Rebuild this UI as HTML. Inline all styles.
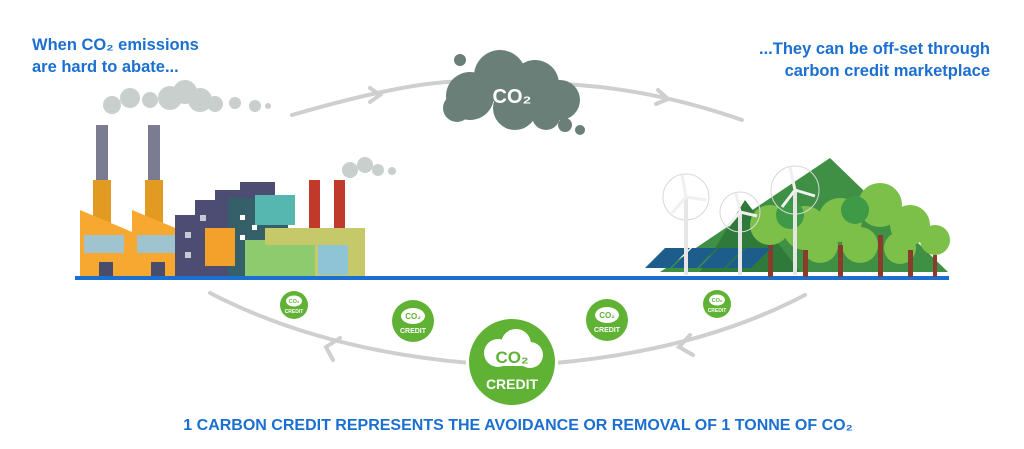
<!DOCTYPE html>
<html><head><meta charset="utf-8"><style>
body{margin:0;background:#fff;width:1024px;height:449px;overflow:hidden}
svg{display:block}
text{font-family:"Liberation Sans",sans-serif;font-weight:bold}
</style></head><body>
<svg width="1024" height="449" viewBox="0 0 1024 449">
<!-- texts -->
<text x="32" y="50" font-size="16.5" fill="#1b6fd0">When CO₂ emissions</text>
<text x="32" y="72" font-size="16.5" fill="#1b6fd0">are hard to abate...</text>
<text x="990" y="54" font-size="16.5" fill="#1b6fd0" text-anchor="end">...They can be off-set through</text>
<text x="990" y="76" font-size="16.5" fill="#1b6fd0" text-anchor="end">carbon credit marketplace</text>
<text x="518" y="430" font-size="16" fill="#1b6fd0" text-anchor="middle">1 CARBON CREDIT REPRESENTS THE AVOIDANCE OR REMOVAL OF 1 TONNE OF CO₂</text>

<!-- arcs -->
<g fill="none" stroke="#cfcfcf" stroke-width="4" stroke-linecap="round">
<path d="M292 115 Q420 78 470 82"/>
<path d="M562 84 Q650 88 742 120"/>
<path d="M370 88 L380 95 L370 102"/>
<path d="M658 90 L668 99 L656 104"/>
<path d="M210 293 Q320 350 470 363"/>
<path d="M555 363 Q700 350 805 295"/>
<path d="M340 338 L326 347 L333 360"/>
<path d="M690 335 L679 347 L693 355"/>
</g>

<!-- CO2 cloud -->
<g fill="#6b7f79">
<circle cx="470" cy="96" r="24"/><circle cx="500" cy="76" r="26"/><circle cx="535" cy="84" r="24"/>
<circle cx="560" cy="100" r="20"/><circle cx="515" cy="108" r="22"/><circle cx="457" cy="108" r="14"/>
<circle cx="546" cy="116" r="14"/><circle cx="565" cy="125" r="7"/><circle cx="580" cy="130" r="5"/>
<circle cx="460" cy="60" r="6"/>
</g>
<text x="512" y="103" font-size="20" fill="#fff" text-anchor="middle">CO₂</text>

<!-- smoke -->
<g fill="#c8cfcc">
<circle cx="112" cy="105" r="9"/><circle cx="130" cy="98" r="10"/><circle cx="150" cy="100" r="8"/>
<circle cx="170" cy="98" r="12"/><circle cx="185" cy="92" r="12"/><circle cx="200" cy="100" r="12"/><circle cx="215" cy="104" r="8"/>
<circle cx="235" cy="103" r="6"/><circle cx="255" cy="106" r="6"/><circle cx="268" cy="106" r="3"/>
<circle cx="350" cy="170" r="8"/><circle cx="365" cy="165" r="8"/><circle cx="378" cy="170" r="6"/><circle cx="392" cy="171" r="4"/>
</g>

<!-- factory left -->
<rect x="96" y="125" width="12" height="60" fill="#7b7c92"/>
<rect x="148" y="125" width="12" height="60" fill="#7b7c92"/>
<rect x="93" y="180" width="18" height="50" fill="#e39a22"/>
<rect x="145" y="180" width="18" height="50" fill="#e39a22"/>
<polygon points="80,210 132,232 132,210 185,232 185,278 80,278" fill="#f7a830"/>
<rect x="84" y="235" width="40" height="18" fill="#9fc3cf"/>
<rect x="137" y="235" width="40" height="18" fill="#9fc3cf"/>
<rect x="99" y="262" width="14" height="16" fill="#4a4c6b"/>
<rect x="151" y="262" width="14" height="16" fill="#4a4c6b"/>
<!-- purple building -->
<polygon points="175,215 195,215 195,200 215,200 215,190 240,190 240,182 275,182 275,278 175,278" fill="#4d4c73"/>
<g fill="#c9c9d6"><rect x="185" y="232" width="6" height="6"/><rect x="200" y="215" width="6" height="6"/><rect x="185" y="252" width="6" height="6"/></g>
<rect x="228" y="198" width="60" height="80" fill="#35606a"/>
<g fill="#fff"><rect x="240" y="215" width="5" height="5"/><rect x="252" y="225" width="5" height="5"/><rect x="240" y="235" width="5" height="5"/><rect x="252" y="245" width="5" height="5"/></g>
<rect x="255" y="195" width="40" height="30" fill="#56b7b0"/>
<rect x="205" y="228" width="30" height="38" fill="#f3a12b"/>
<rect x="245" y="240" width="70" height="38" fill="#8ecb6e"/>
<!-- right factory -->
<rect x="309" y="180" width="11" height="50" fill="#c0392b"/>
<rect x="334" y="180" width="11" height="50" fill="#c0392b"/>
<rect x="265" y="228" width="100" height="50" fill="#c6c96a"/>
<rect x="245" y="245" width="70" height="32" fill="#8ecb6e"/>
<rect x="318" y="245" width="30" height="30" fill="#8fc4d6"/>
<!-- ground -->
<rect x="75" y="276" width="874" height="4" fill="#1b6fd0"/>

<!-- mountains -->
<polygon points="660,272 830,158 948,272" fill="#3f8f45"/>
<polygon points="700,272 745,200 800,272" fill="#2f7a3a"/>
<!-- trees -->
<g fill="#7cc04a">
<circle cx="770" cy="225" r="20"/><circle cx="805" cy="228" r="22"/><circle cx="840" cy="220" r="22"/>
<circle cx="880" cy="205" r="22"/><circle cx="910" cy="225" r="20"/><circle cx="935" cy="240" r="15"/>
<circle cx="820" cy="245" r="18"/><circle cx="860" cy="245" r="18"/><circle cx="900" cy="248" r="16"/>
</g>
<g fill="#3e9a47"><circle cx="790" cy="215" r="14"/><circle cx="855" cy="210" r="14"/></g>
<g fill="#8a3c2a">
<rect x="768" y="245" width="5" height="32"/><rect x="803" y="250" width="5" height="27"/><rect x="838" y="245" width="5" height="32"/>
<rect x="878" y="235" width="5" height="42"/><rect x="908" y="250" width="5" height="27"/><rect x="933" y="255" width="4" height="22"/>
</g>
<!-- solar -->
<g fill="#1d5d8c">
<polygon points="645,268 665,248 690,248 670,268"/><polygon points="672,268 692,248 717,248 697,268"/>
<polygon points="699,268 719,248 744,248 724,268"/><polygon points="726,268 746,248 771,248 751,268"/>
</g>
<!-- turbines -->
<g stroke="#d8d8d8" fill="none" stroke-width="1">
<circle cx="686" cy="197" r="23"/><circle cx="740" cy="212" r="20"/><circle cx="795" cy="190" r="24"/>
</g>
<g fill="#e6e6e6">
<rect x="684" y="197" width="4" height="78"/><rect x="738" y="212" width="4" height="63"/><rect x="793" y="190" width="4" height="85"/>
</g>
<g stroke="#f0f0f0" stroke-width="3">
<path d="M686 197 L682 175 M686 197 L706 200 M686 197 L672 213"/>
<path d="M740 212 L736 193 M740 212 L757 216 M740 212 L728 226"/>
<path d="M795 190 L790 167 M795 190 L815 196 M795 190 L782 207"/>
</g>

<!-- credits -->
<g fill="#fff" text-anchor="middle">
<circle cx="512" cy="362" r="46" fill="#fff"/><circle cx="512" cy="362" r="43" fill="#5fb233"/>
<g fill="#fff"><circle cx="498" cy="353" r="14"/><circle cx="516" cy="344" r="15"/><circle cx="530" cy="355" r="13"/><rect x="490" y="352" width="45" height="14" rx="7"/></g>
<text x="512" y="363" font-size="17" fill="#5fb233">CO₂</text>
<text x="512" y="389" font-size="14">CREDIT</text>
</g>
<g text-anchor="middle" fill="#fff">
<circle cx="413" cy="321" r="21" fill="#5fb233"/><ellipse cx="413" cy="316" rx="12" ry="8" fill="#fff"/>
<text x="413" y="319" font-size="8" fill="#5fb233">CO₂</text><text x="413" y="333" font-size="7">CREDIT</text>
<circle cx="607" cy="320" r="21" fill="#5fb233"/><ellipse cx="607" cy="315" rx="12" ry="8" fill="#fff"/>
<text x="607" y="318" font-size="8" fill="#5fb233">CO₂</text><text x="607" y="332" font-size="7">CREDIT</text>
<circle cx="294" cy="305" r="14" fill="#5fb233"/><ellipse cx="294" cy="301" rx="8" ry="5.5" fill="#fff"/>
<text x="294" y="303" font-size="5.5" fill="#5fb233">CO₂</text><text x="294" y="313" font-size="5">CREDIT</text>
<circle cx="717" cy="304" r="14" fill="#5fb233"/><ellipse cx="717" cy="300" rx="8" ry="5.5" fill="#fff"/>
<text x="717" y="302" font-size="5.5" fill="#5fb233">CO₂</text><text x="717" y="312" font-size="5">CREDIT</text>
</g>
</svg>
</body></html>
